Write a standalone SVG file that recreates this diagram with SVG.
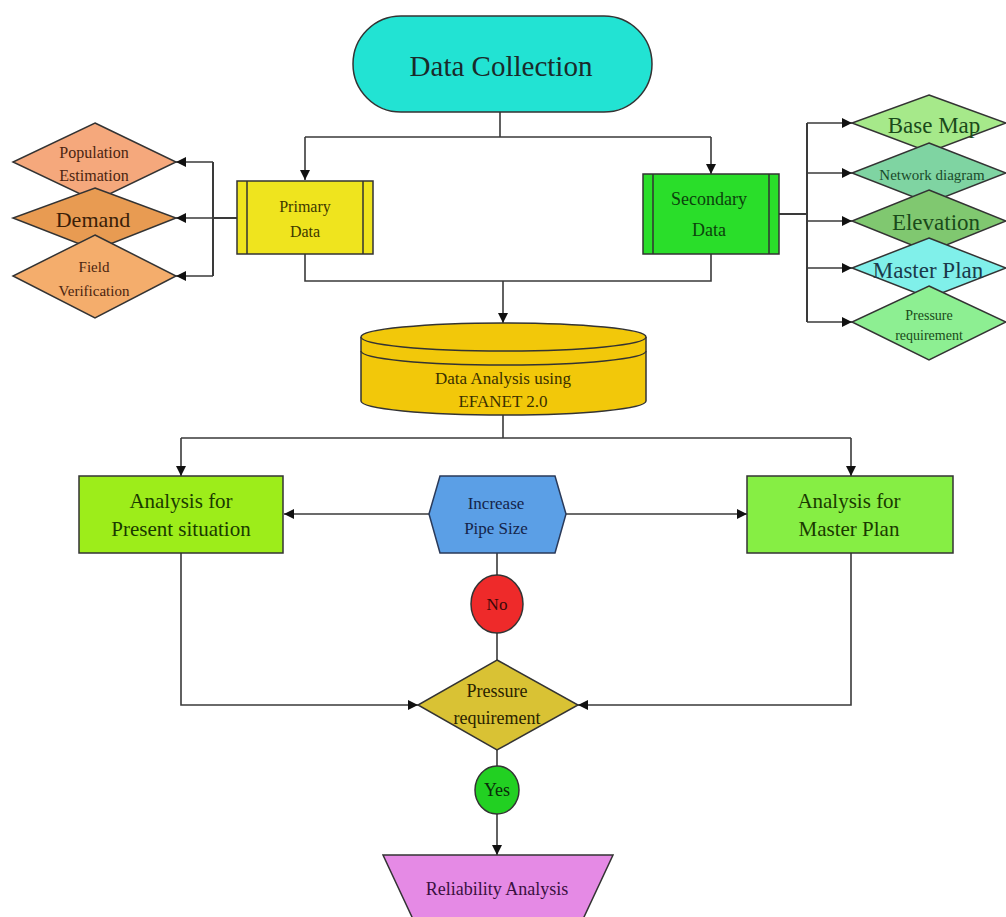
<svg xmlns="http://www.w3.org/2000/svg" width="1006" height="917" viewBox="0 0 1006 917">
<defs>
<marker id="arr" viewBox="0 0 10 10" refX="10" refY="5" markerWidth="11" markerHeight="10" markerUnits="userSpaceOnUse" orient="auto"><path d="M0,0 L10,5 L0,10 z" fill="#111"/></marker>
<style>
text{font-family:"Liberation Serif","Times New Roman",serif;text-anchor:middle}
.sh{stroke:#333;stroke-width:1.5}
.ln{fill:none;stroke:#3a3a3a;stroke-width:1.6}
.a{marker-end:url(#arr)}
</style>
</defs>
<rect width="1006" height="917" fill="#fff"/>
<g id="connectors">
<path class="ln" d="M500,112 V137 M305,137 H711"/>
<path class="ln a" d="M305,137 V180"/>
<path class="ln a" d="M711,137 V174"/>
<path class="ln" d="M237,218 H213 M213,162 V276" style="stroke-width:2"/>
<path class="ln a" d="M213,162 H176"/>
<path class="ln a" d="M213,218 H176"/>
<path class="ln a" d="M213,276 H176"/>
<path class="ln" d="M779,214 H807 M807,123 V322" style="stroke-width:2"/>
<path class="ln a" d="M807,123 H852"/>
<path class="ln a" d="M807,173 H852"/>
<path class="ln a" d="M807,221 H852"/>
<path class="ln a" d="M807,268 H852"/>
<path class="ln a" d="M807,322 H852"/>
<path class="ln" d="M305,254 V281 H711 V254"/>
<path class="ln a" d="M503,281 V323"/>
<path class="ln" d="M503,415 V438 M181,438 H851"/>
<path class="ln a" d="M181,438 V476"/>
<path class="ln a" d="M851,438 V476"/>
<path class="ln a" d="M429,514 H284"/>
<path class="ln a" d="M566,514 H747"/>
<path class="ln" d="M497,553 V575 M497,633 V660"/>
<path class="ln a" d="M181,553 V705 H418"/>
<path class="ln a" d="M851,553 V705 H578"/>
<path class="ln" d="M497,750 V766"/>
<path class="ln a" d="M497,814 V855"/>
</g>
<g id="data-collection">
<rect class="sh" x="353" y="16" width="299" height="96" rx="48" fill="#22e3d3"/>
<text x="501" y="76" font-size="29" fill="#1a2a2a">Data Collection</text>
</g>
<g id="primary-data">
<rect class="sh" x="237" y="181" width="136" height="73" fill="#efe41e"/>
<path class="sh" d="M247,181 V254 M363,181 V254"/>
<text x="305" y="212" font-size="16" fill="#3e3800">Primary</text>
<text x="305" y="237" font-size="16" fill="#3e3800">Data</text>
</g>
<g id="secondary-data">
<rect class="sh" x="643" y="174" width="136" height="80" fill="#2ade2a"/>
<path class="sh" d="M653,174 V254 M769,174 V254"/>
<text x="709" y="205" font-size="18" fill="#0c420c">Secondary</text>
<text x="709" y="236" font-size="18" fill="#0c420c">Data</text>
</g>
<g id="population-estimation">
<polygon class="sh" points="95,123 176,162 95,201 13,162" fill="#f5a87c"/>
<text x="94" y="158" font-size="16" fill="#4a2410">Population</text>
<text x="94" y="181" font-size="16" fill="#4a2410">Estimation</text>
</g>
<g id="demand">
<polygon class="sh" points="95,188 176,218 95,250 13,218" fill="#e89b52"/>
<text x="93" y="227" font-size="22" fill="#3a1e08">Demand</text>
</g>
<g id="field-verification">
<polygon class="sh" points="95,235 176,276 95,318 13,276" fill="#f4ad6c"/>
<text x="94" y="272" font-size="15" fill="#4a2410">Field</text>
<text x="94" y="296" font-size="15" fill="#4a2410">Verification</text>
</g>
<g id="base-map">
<polygon class="sh" points="929,95 1006,123 929,152 852,123" fill="#a6e98a"/>
<text x="934" y="133" font-size="23" fill="#1a4a1a">Base Map</text>
</g>
<g id="network-diagram">
<polygon class="sh" points="929,143 1006,173 929,203 852,173" fill="#7fd4a2"/>
<text x="932" y="180" font-size="15" fill="#1a4a2a">Network diagram</text>
</g>
<g id="elevation">
<polygon class="sh" points="929,190 1006,221 929,252 852,221" fill="#80c870"/>
<text x="936" y="230" font-size="23" fill="#1a4a1a">Elevation</text>
</g>
<g id="master-plan">
<polygon class="sh" points="929,238 1006,268 929,298 852,268" fill="#80f0ea"/>
<text x="928" y="278" font-size="23" fill="#1a3a4a">Master Plan</text>
</g>
<g id="pressure-requirement-input">
<polygon class="sh" points="929,286 1006,322 929,360 852,322" fill="#8def92"/>
<text x="929" y="320" font-size="14" fill="#1a4a1a">Pressure</text>
<text x="929" y="340" font-size="14" fill="#1a4a1a">requirement</text>
</g>
<g id="data-analysis">
<path class="sh" d="M361,337 V401 A142.5,14 0 0 0 646,401 V337" fill="#f2c80a"/>
<ellipse class="sh" cx="503.5" cy="337" rx="142.5" ry="14" fill="#f2c80a"/>
<path class="sh" d="M361,351 A142.5,14 0 0 0 646,351" fill="none"/>
<text x="503" y="384" font-size="17" fill="#3a3000">Data Analysis using</text>
<text x="503" y="407" font-size="17" fill="#3a3000">EFANET 2.0</text>
</g>
<g id="analysis-present">
<rect class="sh" x="79" y="476" width="204" height="77" fill="#9ded1a"/>
<text x="181" y="508" font-size="21" fill="#1a3a00">Analysis for</text>
<text x="181" y="536" font-size="21" fill="#1a3a00">Present situation</text>
</g>
<g id="increase-pipe-size">
<polygon points="429,514 440,476 555,476 566,514 555,553 440,553" fill="#5b9fe6" stroke="#2a3a5a" stroke-width="1.5"/>
<text x="496" y="509" font-size="17" fill="#14244a">Increase</text>
<text x="496" y="534" font-size="17" fill="#14244a">Pipe Size</text>
</g>
<g id="analysis-master-plan">
<rect class="sh" x="747" y="476" width="206" height="77" fill="#86ee44"/>
<text x="849" y="508" font-size="21" fill="#1a3a00">Analysis for</text>
<text x="849" y="536" font-size="21" fill="#1a3a00">Master Plan</text>
</g>
<g id="no">
<ellipse class="sh" cx="497" cy="604" rx="26" ry="29" fill="#ee2a2a"/>
<text x="497" y="610" font-size="17" fill="#3a0808">No</text>
</g>
<g id="pressure-requirement">
<polygon class="sh" points="497,660 578,705 497,750 418,705" fill="#d9c234"/>
<text x="497" y="697" font-size="18" fill="#2a2200">Pressure</text>
<text x="497" y="724" font-size="18" fill="#2a2200">requirement</text>
</g>
<g id="yes">
<ellipse class="sh" cx="497" cy="790" rx="22" ry="24" fill="#22d022"/>
<text x="497" y="796" font-size="18" fill="#0a2a0a">Yes</text>
</g>
<g id="reliability-analysis">
<polygon class="sh" points="383,855 613,855 577,932 419,932" fill="#e58ae5"/>
<text x="497" y="895" font-size="18" fill="#3a1040">Reliability Analysis</text>
</g>
</svg>
